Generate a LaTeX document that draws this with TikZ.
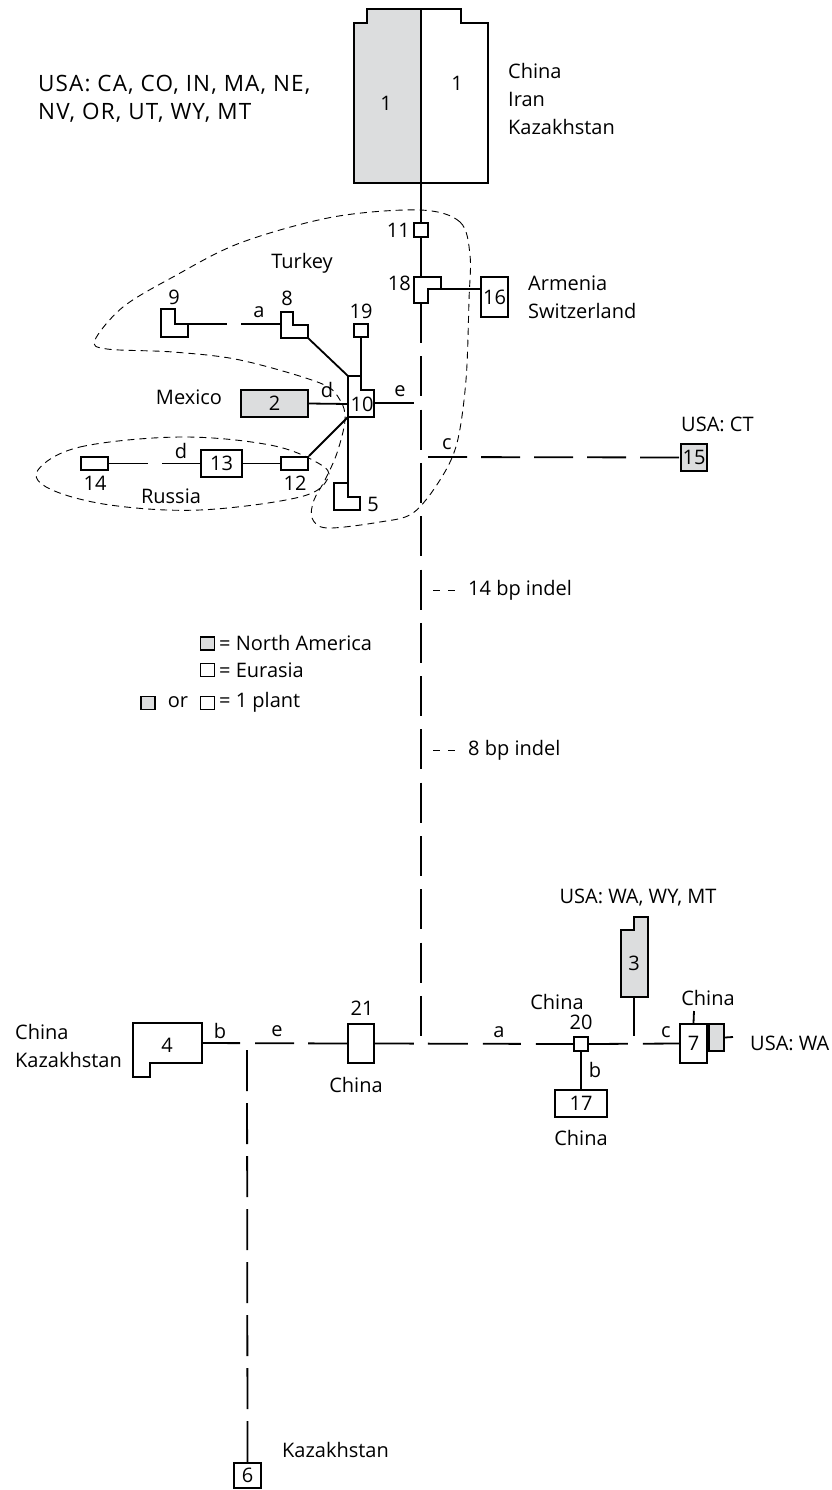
\documentclass[tikz,border=0pt]{standalone}
\usepackage{fontspec}
\setmainfont{Open Sans}
\newfontfamily\trackfont[LetterSpace=5]{Open Sans}
\usetikzlibrary{calc}
\definecolor{plantgray}{RGB}{220,221,222}
\newcommand{\fs}{\fontsize{20}{28}\selectfont}
\newcommand{\fsbig}{\fontsize{22.5}{28}\selectfont}
\tikzset{
 box/.style={draw, line width=1.8pt, inner sep=0pt, font=\fs},
 ghost/.style={inner sep=0pt, font=\fs},
 outline/.style={line width=1.8pt, line join=miter},
 link/.style={line width=1.8pt},
 hull/.style={line width=0.9pt, dash pattern=on 7pt off 5pt},
 lab/.style={inner sep=0pt, font=\fs},
 txt/.style={inner sep=0pt, font=\fs, align=left, anchor=west},
}
\begin{document}
\begin{tikzpicture}[x=1pt,y=-1pt]
\useasboundingbox (0,0) rectangle (831,1490);
% ---------- hulls ----------
\draw[hull] plot[smooth cycle, tension=0.55] coordinates {
 (420,210) (460,222) (470,255) (469,300) (466,380) (457,443) (440,480) (413,513)
 (380,522) (327,528) (312,518) (314,500) (325,480) (337,453) (345,420) (340,400)
 (320,383) (240,360) (173,352) (107,349) (95,340) (123,307) (173,277) (240,243) (333,217)};
\draw[hull] plot[smooth cycle, tension=0.6] coordinates {
 (38,470) (80,447) (180,437) (270,445) (318,463) (328,478) (300,497) (200,510) (110,505) (50,489)};
% ---------- node 1 ----------
\fill[plantgray] (354,183) -- (354,23) -- (367,23) -- (367,9) -- (421,9) -- (421,183) -- cycle;
\draw[outline] (354,183) -- (354,23) -- (367,23) -- (367,9) -- (461,9) -- (461,23) -- (488,23) -- (488,183) -- cycle;
\draw[outline] (421,9) -- (421,183);
\node[ghost, minimum width=134pt, minimum height=174pt] (n1) at (421,96) {};
\node[lab] (n1a) at (386,103) {1};
\node[lab] (n1b) at (457,83) {1};
\node[txt, font=\trackfont\fsbig] (t1) at (38,99) {USA: CA, CO, IN, MA, NE,\\NV, OR, UT, WY, MT};
\node[txt] (t1b) at (508,99) {China\\Iran\\Kazakhstan};
% ---------- 11, 18, 16 ----------
\node[box, minimum width=14pt, minimum height=14pt] (n11) at (421,230) {};
\node[lab, anchor=east] at (410,230) {11};
\draw[outline] (414,277) -- (441,277) -- (441,289) -- (428,289) -- (428,303) -- (414,303) -- cycle;
\coordinate (p18t) at (421,277);
\coordinate (p18b) at (421,303);
\coordinate (p18r) at (428,289);
\node[lab, anchor=east] at (411,283) {18};
\node[box, minimum width=27pt, minimum height=40pt] (n16) at (494.5,297) {16};
\node[txt] (t16) at (528,297) {Armenia\\Switzerland};
\draw[link] (n1.south) -- (n11.north);
\draw[link] (n11.south) -- (p18t);
\draw[link] (p18r) -- (p18r -| n16.west);
% ---------- main vertical ----------
\coordinate (vend) at (421,1037);
\draw[link, dash pattern=on 40pt off 13.3pt] (p18b) -- (vend);
% ---------- c to 15 ----------
\coordinate (cst) at (428,457);
\node[box, fill=plantgray, minimum width=26pt, minimum height=27pt] (n15) at (694,457.5) {15};
\node[txt] at (681,424) {USA: CT};
\draw[link, dash pattern=on 39pt off 14pt] (cst) -- (n15.west);
\node[lab] at (447,444) {c};
% ---------- 10 cluster ----------
\draw[outline] (348,376) -- (361,376) -- (361,390) -- (374,390) -- (374,417) -- (348,417) -- cycle;
\node[lab] (n10) at (362,404) {10};
\coordinate (p10t) at (361,376);
\coordinate (p10tl) at (348,376);
\coordinate (p10l) at (348,404);
\coordinate (p10bl) at (348,417);
\coordinate (p10r) at (374,403);
\coordinate (eend) at (414,403);
\draw[link] (p10r) -- (eend);
\node[lab] at (400,391) {e};
\node[box, minimum width=14pt, minimum height=13pt] (n19) at (361,330.5) {};
\node[lab] at (361,311) {19};
\draw[link] (n19.south) -- (p10t);
% 8
\draw[outline] (281,312) -- (293,312) -- (293,325) -- (308,325) -- (308,338) -- (281,338) -- cycle;
\coordinate (p8l) at (281,324);
\coordinate (p8br) at (308,338);
\node[lab] at (287,298) {8};
\draw[link] (p8br) -- (p10tl);
% 9
\draw[outline] (161,309) -- (175,309) -- (175,324) -- (188,324) -- (188,337) -- (161,337) -- cycle;
\coordinate (p9r) at (188,324);
\node[lab] at (174,297) {9};
\draw[link, dash pattern=on 39pt off 14pt on 60pt off 0pt] (p9r) -- (p8l);
\node[lab] at (259,312) {a};
\node[lab] at (302,263) {Turkey};
% 2
\node[box, fill=plantgray, minimum width=67pt, minimum height=27pt] (n2) at (274.5,403.5) {2};
\node[lab] at (189,397) {Mexico};
\draw[link] (n2.east) -- (p10l);
\node[lab] at (327,390) {d};
% 12, 13, 14
\node[box, minimum width=27pt, minimum height=13pt] (n12) at (294.5,463.5) {};
\node[lab] at (295,483) {12};
\draw[link] (n12.north east) -- (p10bl);
\node[box, minimum width=41pt, minimum height=27pt] (n13) at (221.5,463.5) {13};
\draw[link] (n13.east) -- (n12.west);
\node[box, minimum width=27pt, minimum height=13pt] (n14) at (94.5,463.5) {};
\node[lab] at (95,483) {14};
\draw[link, dash pattern=on 39pt off 14pt on 60pt off 0pt] (n14.east) -- (n13.west);
\node[lab] at (181,451) {d};
\node[lab] at (171,496) {Russia};
% 5
\draw[outline] (334,483) -- (348,483) -- (348,497) -- (360,497) -- (360,510) -- (334,510) -- cycle;
\coordinate (p5t) at (348,483);
\node[lab] at (373,504) {5};
\draw[link] (p10bl) -- (p5t);
% ---------- indel marks ----------
\coordinate (i14) at (433,590);
\draw[line width=1pt, dash pattern=on 7pt off 8pt] (i14) -- ++(23,0);
\node[txt] at (468,590) {14 bp indel};
\coordinate (i8) at (433,750);
\draw[line width=1pt, dash pattern=on 7pt off 8pt] (i8) -- ++(23,0);
\node[txt] at (468,750) {8 bp indel};
% ---------- legend ----------
\node[box, fill=plantgray, minimum width=14pt, minimum height=13pt] (lg1) at (207.5,643.5) {};
\node[txt] at (219,643) {= North America};
\node[box, minimum width=14pt, minimum height=13pt] (lg2) at (207.5,670) {};
\node[txt] at (219,670) {= Eurasia};
\node[box, fill=plantgray, minimum width=14pt, minimum height=13pt] (lg3) at (148,703) {};
\node[lab] at (178,702) {or};
\node[box, minimum width=14pt, minimum height=13pt] (lg4) at (207.5,703) {};
\node[txt] at (219,702) {= 1 plant};
% ---------- bottom part ----------
\draw[outline] (133,1023) -- (202,1023) -- (202,1063) -- (150,1063) -- (150,1077) -- (133,1077) -- cycle;
\node[lab] (n4) at (167,1045) {4};
\coordinate (p4r) at (202,1043);
\node[txt] at (15,1046) {China\\Kazakhstan};
\node[box, minimum width=26pt, minimum height=39pt] (n21) at (361,1043.5) {};
\node[lab] at (362,1008) {21};
\node[lab] at (356,1085) {China};
\draw[link, dash pattern=on 38pt off 15pt on 39pt off 14pt on 80pt off 0pt] (p4r) -- (n21.west);
\node[lab] at (220,1031) {b};
\node[lab] at (277,1031) {e};
\coordinate (j6) at (247,1050);
\node[box, minimum width=27pt, minimum height=25pt] (n6) at (247.5,1475.5) {6};
\node[txt] at (282,1450) {Kazakhstan};
\draw[link, dash pattern=on 41pt off 12pt] (n6.north) -- (j6);
\node[box, minimum width=14pt, minimum height=14pt] (n20) at (581,1044) {};
\node[lab] at (581,1022) {20};
\node[lab] at (557,1002) {China};
\draw[link, dash pattern=on 39pt off 14pt on 40pt off 15pt on 38pt off 15pt on 80pt off 0pt] (n21.east) -- (n20.west);
\node[lab] at (499,1032) {a};
\node[box, minimum width=52pt, minimum height=27pt] (n17) at (581,1103.5) {17};
\node[lab] at (581,1138) {China};
\draw[link] (n20.south) -- (n17.north);
\node[lab] at (595,1070) {b};
% 3
\draw[outline, fill=plantgray] (621,930) -- (634,930) -- (634,917) -- (648,917) -- (648,997) -- (621,997) -- cycle;
\node[lab] (n3) at (634,963) {3};
\coordinate (p3b) at (634,997);
\coordinate (e3) at (634,1036);
\draw[link] (p3b) -- (e3);
\node[lab] at (638,898) {USA: WA, WY, MT};
% 7
\node[box, minimum width=27pt, minimum height=39pt] (n7) at (693.5,1043.5) {7};
\node[box, fill=plantgray, minimum width=15pt, minimum height=27pt, anchor=north west] (n7g) at (n7.north east) {};
\coordinate (e7t) at (694,1011);
\draw[link] (n7.north) -- (e7t);
\coordinate (e7r) at (733,1037);
\draw[link] (n7g.east) -- (e7r);
\node[lab] at (708,998) {China};
\node[txt] at (750,1043) {USA: WA};
\draw[link, dash pattern=on 39pt off 15pt on 80pt off 0pt] (n20.east) -- (n7.west);
\node[lab] at (666,1032) {c};
\end{tikzpicture}
\end{document}
